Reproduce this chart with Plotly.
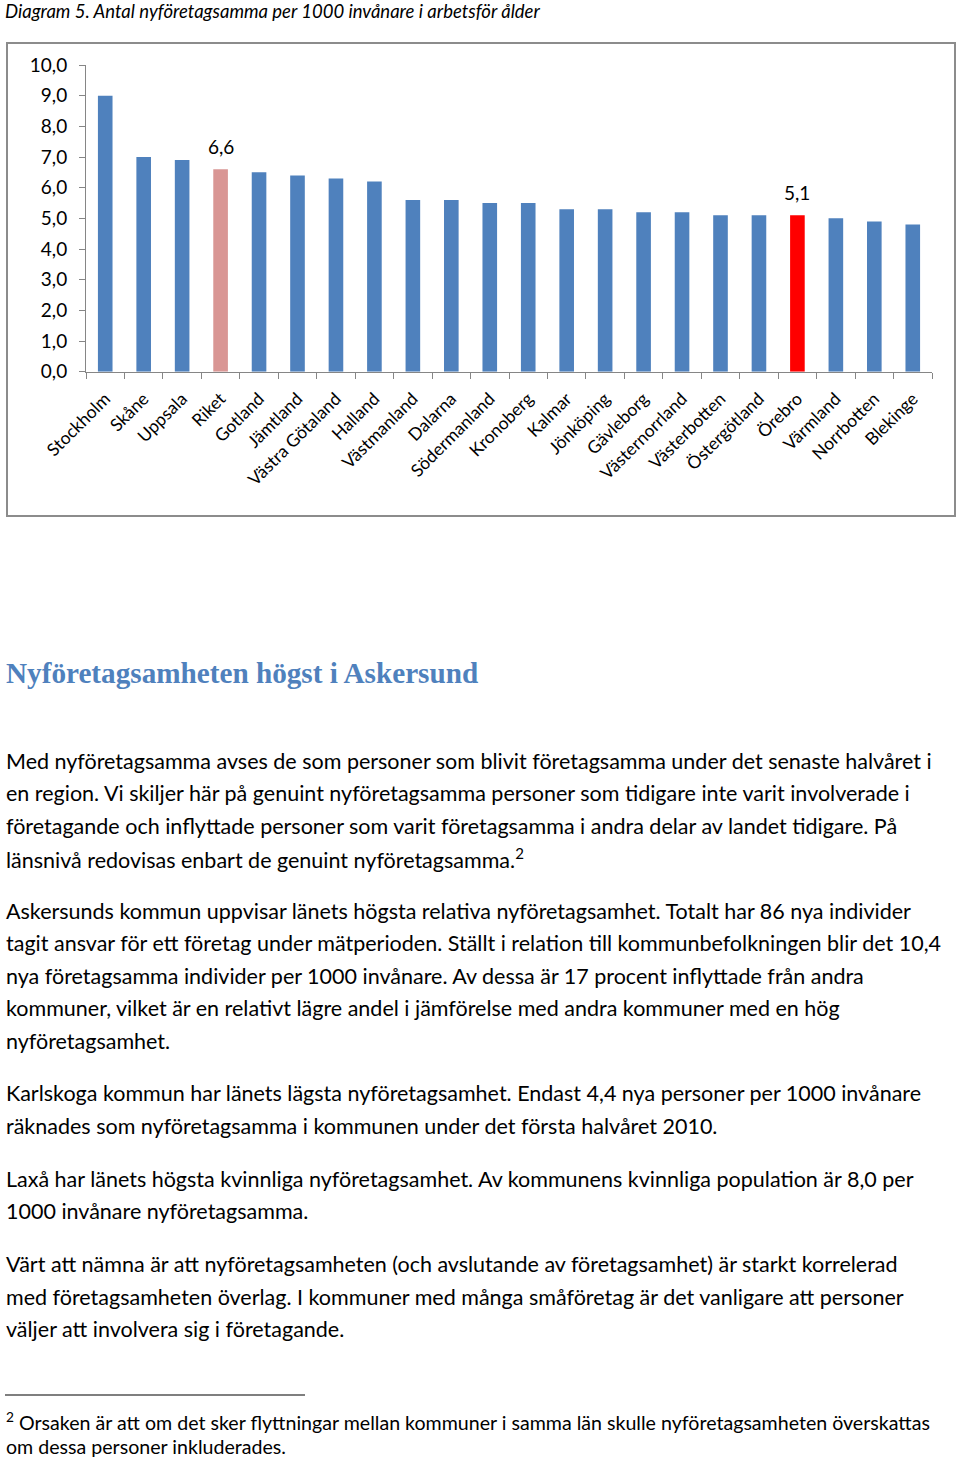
import plotly.graph_objects as go

W, H = 960, 1461

regions = ["Stockholm", "Skåne", "Uppsala", "Riket", "Gotland", "Jämtland",
           "Västra Götaland", "Halland", "Västmanland", "Dalarna", "Södermanland",
           "Kronoberg", "Kalmar", "Jönköping", "Gävleborg", "Västernorrland",
           "Västerbotten", "Östergötland", "Örebro", "Värmland", "Norrbotten", "Blekinge"]
values = [9.0, 7.0, 6.9, 6.6, 6.5, 6.4, 6.3, 6.2, 5.6, 5.6, 5.5,
          5.5, 5.3, 5.3, 5.2, 5.2, 5.1, 5.1, 5.1, 5.0, 4.9, 4.8]
labelled = ["Riket", "Örebro"]
yticks = [0, 1, 2, 3, 4, 5, 6, 7, 8, 9, 10]

chart_title = "Diagram 5. Antal nyföretagsamma per 1000 invånare i arbetsför ålder"
heading = "Nyföretagsamheten högst i Askersund"
body_lines = [
    "Med nyföretagsamma avses de som personer som blivit företagsamma under det senaste halvåret i",
    "en region. Vi skiljer här på genuint nyföretagsamma personer som tidigare inte varit involverade i",
    "företagande och inflyttade personer som varit företagsamma i andra delar av landet tidigare. På",
    "länsnivå redovisas enbart de genuint nyföretagsamma.<sup>2</sup>",
    "Askersunds kommun uppvisar länets högsta relativa nyföretagsamhet. Totalt har 86 nya individer",
    "tagit ansvar för ett företag under mätperioden. Ställt i relation till kommunbefolkningen blir det 10,4",
    "nya företagsamma individer per 1000 invånare. Av dessa är 17 procent inflyttade från andra",
    "kommuner, vilket är en relativt lägre andel i jämförelse med andra kommuner med en hög",
    "nyföretagsamhet.",
    "Karlskoga kommun har länets lägsta nyföretagsamhet. Endast 4,4 nya personer per 1000 invånare",
    "räknades som nyföretagsamma i kommunen under det första halvåret 2010.",
    "Laxå har länets högsta kvinnliga nyföretagsamhet. Av kommunens kvinnliga population är 8,0 per",
    "1000 invånare nyföretagsamma.",
    "Värt att nämna är att nyföretagsamheten (och avslutande av företagsamhet) är starkt korrelerad",
    "med företagsamheten överlag. I kommuner med många småföretag är det vanligare att personer",
    "väljer att involvera sig i företagande.",
]
body_y = [761, 793, 826, 858, 911, 943, 976, 1008, 1041, 1093, 1126, 1179, 1211, 1264, 1297, 1329]
footnote_lines = [
    "<sup>2</sup> Orsaken är att om det sker flyttningar mellan kommuner i samma län skulle nyföretagsamheten överskattas",
    "om dessa personer inkluderades.",
]
footnote_y = [1421, 1446]

BLUE = "#4F81BD"
colors = []
for r in regions:
    if r == "Riket":
        colors.append("#D99694")
    elif r == "Örebro":
        colors.append("#FF0000")
    else:
        colors.append(BLUE)


def px(x):
    return x / W


def py(y):
    return 1 - y / H


FONT = "Lato"
fig = go.Figure()
fig.add_trace(go.Bar(x=regions, y=values, marker=dict(color=colors, line=dict(width=0)),
                     width=0.38, hoverinfo="x+y"))

annotations = []
for r, v in zip(regions, values):
    if r in labelled:
        annotations.append(dict(x=r, y=v, xref="x", yref="y", text=f"{v:.1f}".replace(".", ","),
                                showarrow=False, yanchor="bottom", yshift=9,
                                font=dict(family=FONT, size=19, color="#000")))

annotations.append(dict(x=px(3), y=py(11), xref="paper", yref="paper", xanchor="left", yanchor="middle",
                        text=f"<i>{chart_title}</i>", showarrow=False,
                        font=dict(family=FONT, size=18.5, color="#000")))
annotations.append(dict(x=px(4), y=py(673), xref="paper", yref="paper", xanchor="left", yanchor="middle",
                        text=f"<b>{heading}</b>", showarrow=False,
                        font=dict(family="Liberation Serif", size=29.2, color=BLUE)))
for t, yy in zip(body_lines, body_y):
    annotations.append(dict(x=px(4), y=py(yy), xref="paper", yref="paper", xanchor="left", yanchor="middle",
                            text=t, showarrow=False, font=dict(family=FONT, size=21.5, color="#000")))
for t, yy in zip(footnote_lines, footnote_y):
    annotations.append(dict(x=px(4), y=py(yy), xref="paper", yref="paper", xanchor="left", yanchor="middle",
                            text=t, showarrow=False, font=dict(family=FONT, size=19.6, color="#000")))

shapes = [
    dict(type="rect", xref="paper", yref="paper", x0=px(7), x1=px(955), y0=py(516), y1=py(43),
         line=dict(color="#8C8C8C", width=2), fillcolor="rgba(0,0,0,0)", layer="below"),
    dict(type="line", xref="paper", yref="paper", x0=px(5), x1=px(305), y0=py(1395), y1=py(1395),
         line=dict(color="#000", width=1.2)),
]

fig.update_layout(
    width=W, height=H, margin=dict(l=0, r=0, t=0, b=0, pad=0, autoexpand=False),
    paper_bgcolor="white", plot_bgcolor="white", showlegend=False,
    separators=", ", bargap=0.62,
    annotations=annotations, shapes=shapes,
    xaxis=dict(domain=[px(86), px(932)], showline=True, linecolor="#868686", linewidth=1,
               ticks="outside", ticklen=6, tickcolor="#868686", tickson="boundaries",
               tickangle=-45, tickfont=dict(family=FONT, size=17.5, color="#000"),
               ticklabelstandoff=9, automargin=False,
               showgrid=False, zeroline=False, anchor="y"),
    yaxis=dict(domain=[py(371.7), py(65)], range=[0, 10], tickvals=yticks, tickformat=".1f",
               showline=True, linecolor="#868686", linewidth=1, ticks="outside", ticklen=6,
               tickcolor="#868686", tickfont=dict(family=FONT, size=19, color="#000"),
               ticklabelstandoff=8, automargin=False,
               showgrid=False, zeroline=False, anchor="x"),
)

fig.write_html("out.html", config={"displayModeBar": False},
               post_script="document.body.style.margin='0';document.body.style.padding='0';")
